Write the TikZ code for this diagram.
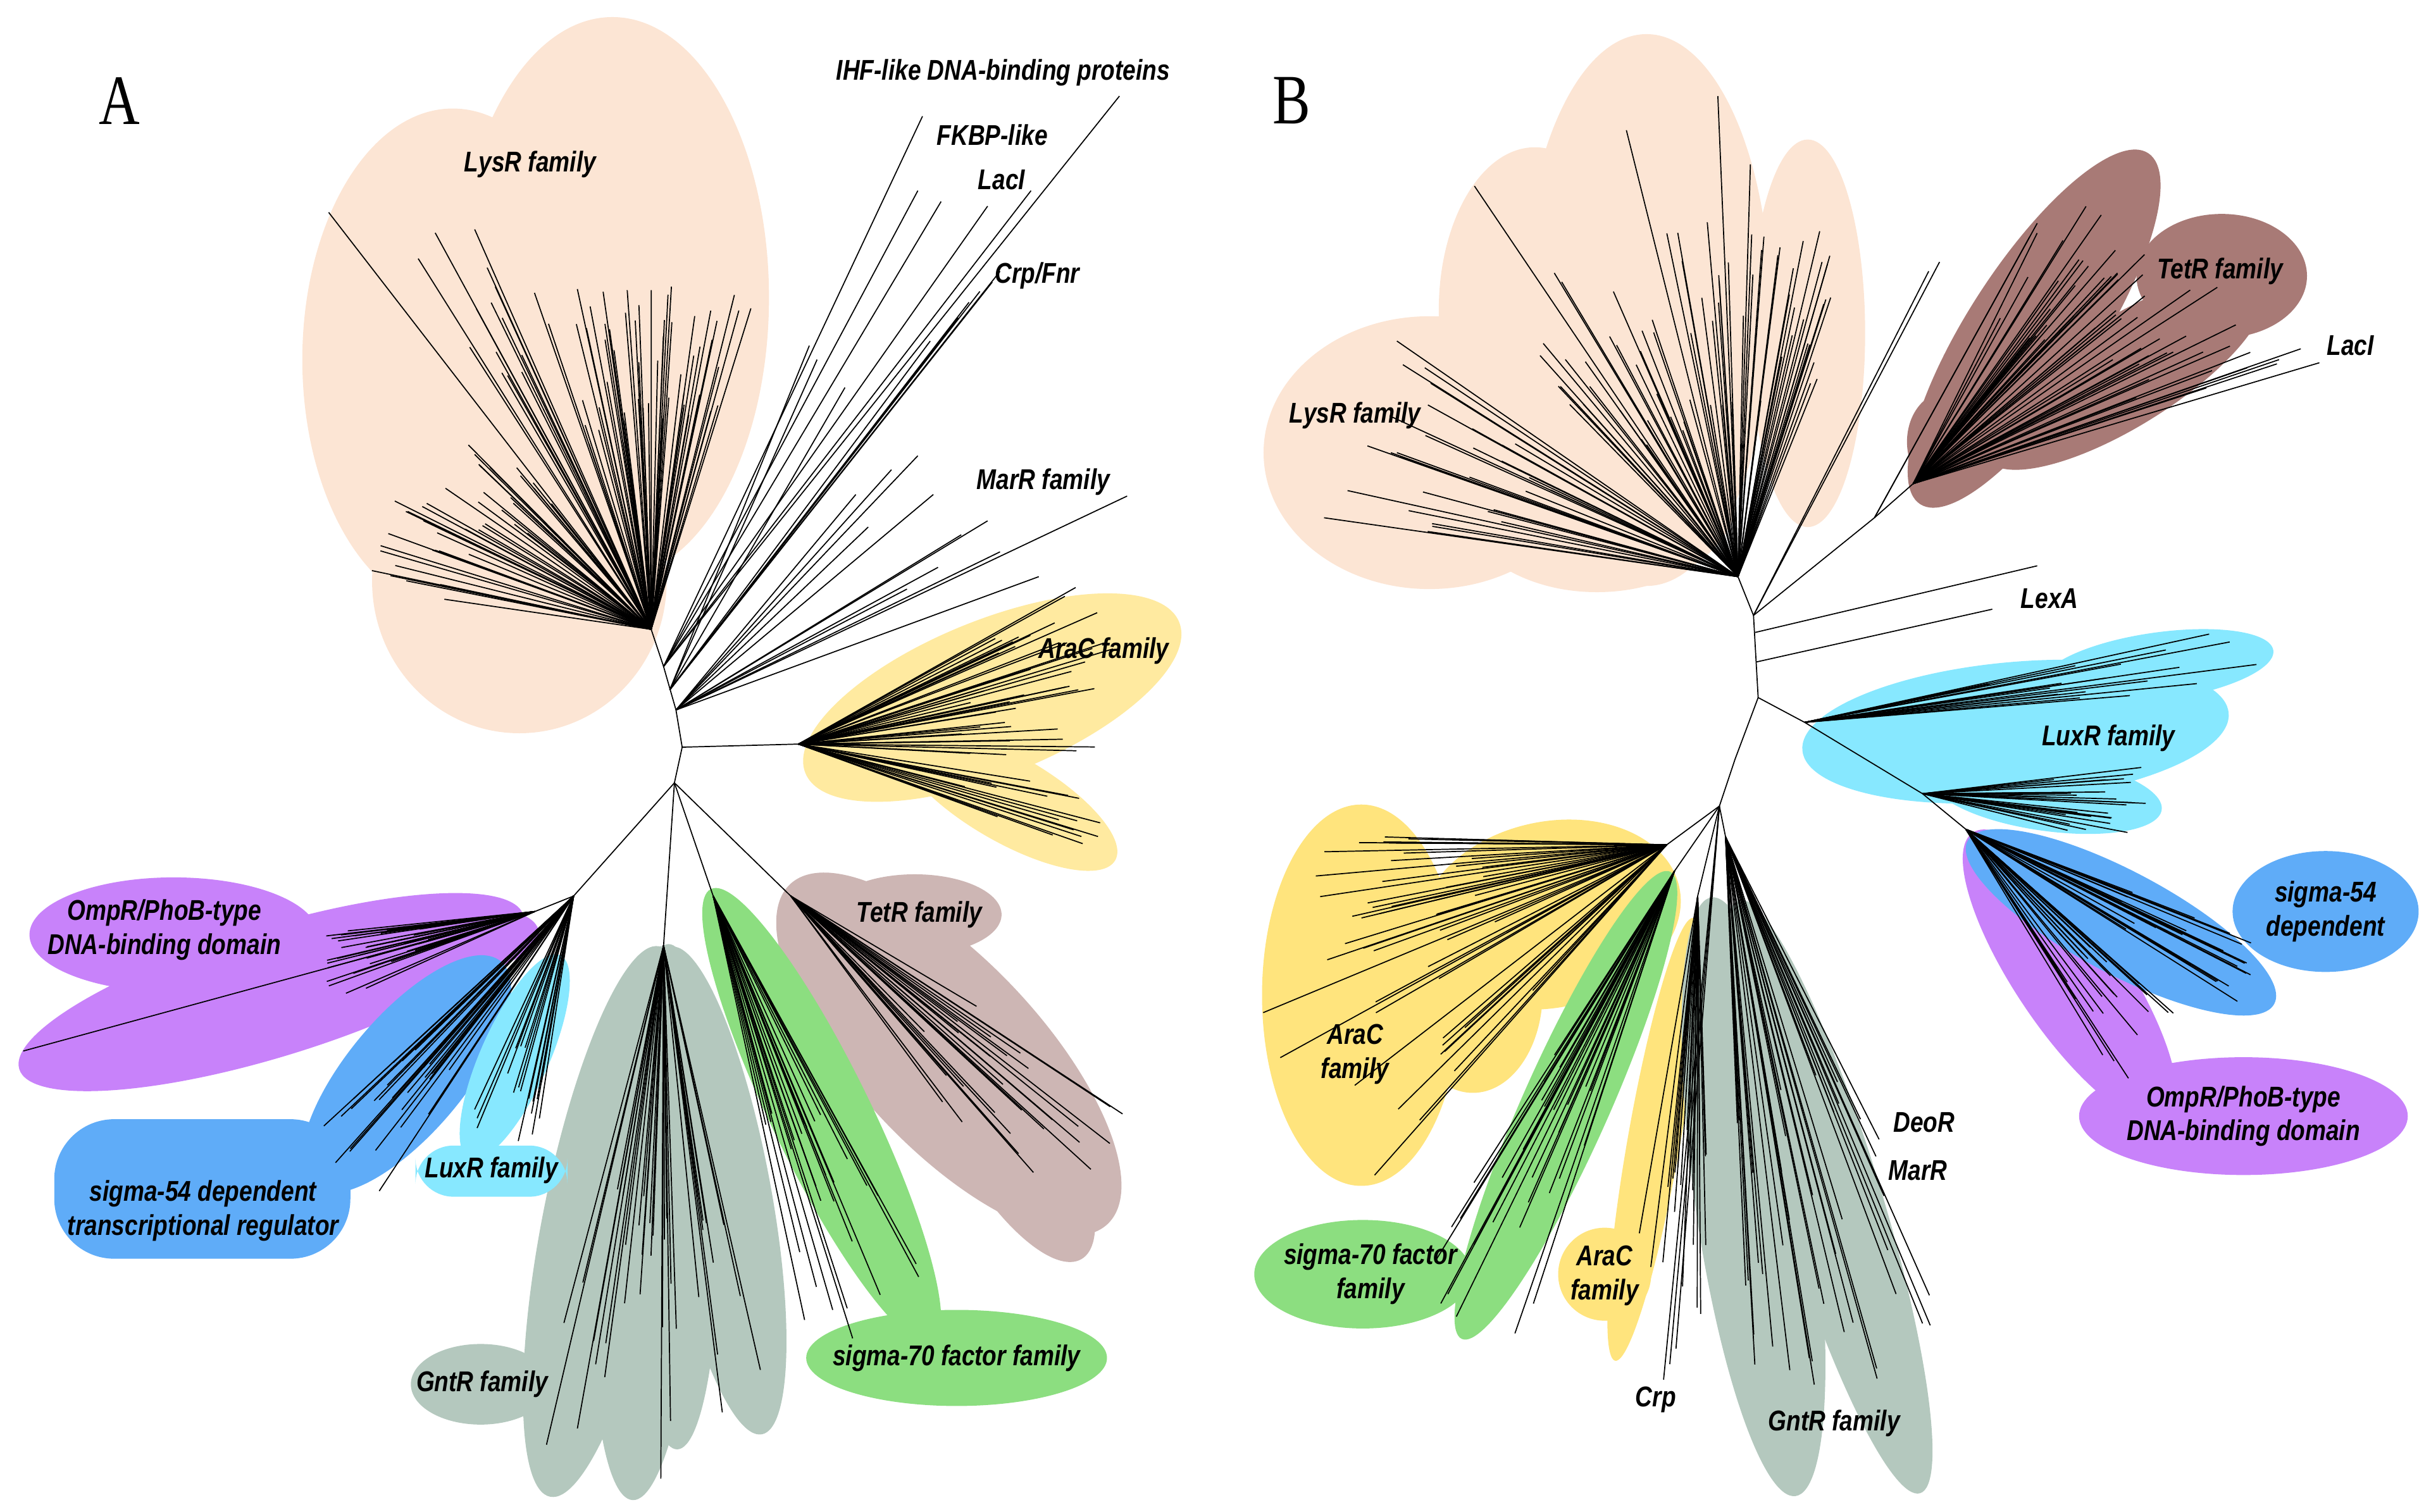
\documentclass[tikz,border=0pt]{standalone}
\usepackage{fontspec}
\newfontfamily\labfont[FakeStretch=0.82]{Liberation Sans}
\newfontfamily\panfont[FakeStretch=0.8]{Liberation Serif}
\definecolor{lysr}{RGB}{252,229,212}
\definecolor{arac}{RGB}{255,234,160}
\definecolor{aracb}{RGB}{255,228,125}
\definecolor{tetra}{RGB}{205,182,180}
\definecolor{tetrb}{RGB}{168,122,118}
\definecolor{ompr}{RGB}{200,130,250}
\definecolor{sigfs}{RGB}{95,172,248}
\definecolor{luxr}{RGB}{135,232,255}
\definecolor{gntr}{RGB}{180,200,190}
\definecolor{sigsv}{RGB}{140,222,128}
% random fan of leaves: hub, first angle, last angle, min length, max length, count
\newcommand\fan[6]{%
  \foreach \k in {1,...,#6} {
    \pgfmathsetmacro\fanang{#2+rnd*((#3)-(#2))}
    \pgfmathsetmacro\fanlen{#4+rnd*((#5)-(#4))}
    \draw[branch] (#1) -- ++(-\fanang:\fanlen);
  }}
\begin{document}
\begin{tikzpicture}[x=0.02cm, y=-0.02cm,
  branch/.style={line width=0.4pt},
  lab/.style={font=\labfont\bfseries\itshape\fontsize{10.5}{12.5}\selectfont, align=center, inner sep=0pt},
  panel/.style={font=\panfont\fontsize{26}{26}\selectfont, inner sep=0pt}]
\useasboundingbox (0,0) rectangle (1568,975);
\pgfmathsetseed{7}

% ---------------- panel A: clade shading ----------------
\fill[lysr] (395,192) ellipse (101 and 181);
\fill[lysr] (292,232) ellipse (97 and 162);
\fill[lysr] (335,375) ellipse (95 and 98);
\fill[arac, rotate around={22:(640,450)}] (640,450) ellipse (130 and 50);
\fill[arac, rotate around={-30:(650,515)}] (650,515) ellipse (80 and 28);
\fill[tetra] (590,590) ellipse (56 and 26);
\fill[tetra, rotate around={-47:(612,680)}] (612,680) ellipse (150 and 60);
\fill[tetra, rotate around={-60:(650,730)}] (650,730) ellipse (95 and 35);
\fill[sigsv, rotate around={-64:(530,720)}] (530,720) ellipse (163 and 32);
\fill[sigsv] (617,876) ellipse (97 and 31);
\fill[gntr] (310,893) ellipse (45 and 26);
\fill[gntr, rotate around={258.8:(390,788)}] (390,788) ellipse (181 and 40);
\fill[gntr, rotate around={266.8:(418,789)}] (418,789) ellipse (179 and 35);
\fill[gntr, rotate around={271:(434,772)}] (434,772) ellipse (163 and 30);
\fill[gntr, rotate around={280.6:(462,768)}] (462,768) ellipse (160 and 35);
\fill[ompr, rotate around={17:(175,640)}] (175,640) ellipse (170 and 42);
\fill[ompr] (112,603) ellipse (93 and 37);
\fill[ompr, rotate around={8:(280,610)}] (280,610) ellipse (68 and 24);
\fill[sigfs, rounded corners=22] (35,722) rectangle (226,812);
\fill[sigfs, rotate around={50:(262,693)}] (262,693) ellipse (95 and 38);
\fill[luxr, rotate around={66:(332,682)}] (332,682) ellipse (72 and 22);
\fill[luxr, rounded corners=14] (268,739) rectangle (366,772);

% ---------------- panel B: clade shading ----------------
\fill[lysr] (922,292) ellipse (107 and 88);
\fill[lysr] (990,200) ellipse (62 and 105);
\fill[lysr] (1062,200) ellipse (80 and 178);
\fill[lysr] (1030,320) ellipse (90 and 62);
\fill[lysr] (1166,215) ellipse (37 and 125);
\fill[tetrb, rotate around={57:(1312,212)}] (1312,212) ellipse (135 and 42);
\fill[tetrb] (1433,178) ellipse (55 and 40);
\fill[tetrb, rotate around={32:(1370,240)}] (1370,240) ellipse (105 and 35);
\fill[tetrb] (1255,285) ellipse (25 and 32);
\fill[luxr, rotate around={5:(1300,472)}] (1300,472) ellipse (138 and 45);
\fill[luxr, rotate around={8:(1392,430)}] (1392,430) ellipse (75 and 22);
\fill[luxr, rotate around={-8:(1320,512)}] (1320,512) ellipse (75 and 24);
\fill[ompr, rotate around={-56:(1335,630)}] (1335,630) ellipse (112 and 35);
\fill[ompr] (1447,720) ellipse (106 and 38);
\fill[sigfs, rotate around={-28:(1368,595)}] (1368,595) ellipse (112 and 33);
\fill[sigfs] (1500,588) ellipse (60 and 39);
\fill[aracb] (878,642) ellipse (64 and 123);
\fill[aracb, rotate around={12:(1000,590)}] (1000,590) ellipse (85 and 60);
\fill[aracb] (950,640) ellipse (45 and 65);
\fill[sigsv, rotate around={66:(1010,713)}] (1010,713) ellipse (165 and 28);
\fill[sigsv] (879,822) ellipse (70 and 35);
\fill[aracb, rotate around={80:(1067,735)}] (1067,735) ellipse (145 and 17);
\fill[aracb] (1035,822) ellipse (30 and 30);
\fill[gntr, rotate around={98:(1131,772)}] (1131,772) ellipse (195 and 38);
\fill[gntr, rotate around={107:(1180,772)}] (1180,772) ellipse (200 and 33);

% ---------------- panel A: tree ----------------
\coordinate (lysA) at (420,406);
\coordinate (a2) at (428,430);
\coordinate (a3) at (436,458);
\coordinate (araA0) at (440,482);
\coordinate (a5) at (435,505);
\coordinate (araA) at (515,480);
\coordinate (leftA) at (370,578);
\coordinate (ompA) at (345,588);
\coordinate (gntA) at (428,610);
\coordinate (sevA) at (460,578);
\coordinate (tetA) at (510,578);
\draw[branch] (lysA) -- (a2) -- (a3) -- (araA0) -- (a5);
\draw[branch] (araA0) -- (araA);
\draw[branch] (a5) -- (leftA) -- (ompA);
\foreach \c in {gntA, sevA, tetA} \draw[branch] (a5) -- (\c);
% LysR
\fan{lysA}{72}{95}{130}{225}{35}
\fan{lysA}{97}{112}{120}{230}{20}
\fan{lysA}{113}{124}{180}{295}{14}
\fan{lysA}{128}{150}{100}{170}{20}
\fan{lysA}{150}{172}{120}{185}{22}
\draw[branch] (lysA) -- (212,137);
% unlabelled branches up to the right
\foreach \t in {(722,62),(595,75),(592,123),(607,130),(637,133),(665,123)} \draw[branch] (a2) -- \t;
\foreach \t in {(645,175),(640,182),(632,188),(625,195),(618,205),(600,220),(522,223),(527,232),(545,250)} \draw[branch] (432,445) -- \t;
\foreach \t in {(592,294),(727,320),(637,336),(602,319),(645,356),(670,372),(552,319),(575,303),(605,366),(620,345),(560,340),(585,380)} \draw[branch] (a3) -- \t;
% AraC
\fan{araA}{14}{30}{120}{215}{22}
\fan{araA}{-4}{14}{100}{200}{22}
\fan{araA}{-22}{-8}{110}{205}{16}
% OmpR, sigma-54, LuxR
\fan{ompA}{185}{205}{70}{145}{34}
\draw[branch] (ompA) -- (15,678);
\fan{leftA}{221}{238}{130}{232}{28}
\fan{leftA}{245}{262}{100}{172}{18}
% GntR, sigma-70, TetR
\fan{gntA}{255}{284}{150}{355}{38}
\fan{sevA}{282}{299}{140}{300}{28}
\fan{tetA}{305}{331}{120}{262}{28}

% ---------------- panel B: tree ----------------
\coordinate (lysB) at (1121,372);
\coordinate (b2) at (1131,397);
\coordinate (lexa1) at (1132,408);
\coordinate (lexa2) at (1133,427);
\coordinate (b3) at (1134,450);
\coordinate (b35) at (1119,490);
\coordinate (b4) at (1109,520);
\coordinate (b21) at (1209,334);
\coordinate (tetB) at (1234,312);
\coordinate (luxB) at (1164,466);
\coordinate (luxB2) at (1240,512);
\coordinate (compB) at (1268,535);
\coordinate (araB) at (1075,545);
\coordinate (sevB) at (1080,562);
\coordinate (ara2B) at (1095,578);
\coordinate (gntB) at (1113,540);
\draw[branch] (lysB) -- (b2) -- (b3) -- (b35) -- (b4);
\draw[branch] (b2) -- (b21) -- (tetB);
\draw[branch] (b3) -- (luxB) -- (luxB2) -- (compB);
\foreach \c in {araB, sevB, ara2B, gntB} \draw[branch] (b4) -- (\c);
% LysR
\fan{lysB}{68}{100}{110}{230}{40}
\fan{lysB}{100}{135}{100}{230}{32}
\fan{lysB}{145}{172}{120}{265}{28}
\foreach \t in {(1108,62),(1049,84),(951,120),(1129,106),(901,220),(901,292),(854,334)} \draw[branch] (lysB) -- \t;
% unlabelled branches, TetR and LacI
\draw[branch] (b2) -- (1251,169);
\draw[branch] (b2) -- (1244,175);
\draw[branch] (b21) -- (1314,144);
\draw[branch] (b21) -- (1309,153);
\fan{tetB}{35}{64}{120}{220}{35}
\fan{tetB}{18}{35}{140}{250}{20}
\foreach \t in {(1484,225),(1496,234),(1470,232)} \draw[branch] (tetB) -- \t;
% LexA
\draw[branch] (lexa1) -- (1314,365);
\draw[branch] (lexa2) -- (1285,393);
% LuxR, sigma-54, OmpR
\fan{luxB}{3}{13}{120}{295}{18}
\fan{luxB2}{-16}{7}{80}{145}{26}
\fan{compB}{-33}{-19}{100}{215}{24}
\fan{compB}{-60}{-40}{100}{195}{24}
% AraC, sigma-70, Crp, GntR
\fan{araB}{178}{202}{110}{235}{32}
\fan{araB}{202}{230}{100}{285}{20}
\fan{sevB}{236}{252}{140}{320}{30}
\fan{ara2B}{259}{272}{140}{275}{20}
\foreach \t in {(1073,890),(1077,880),(1081,870)} \draw[branch] (b4) -- \t;
\fan{gntB}{272}{296}{150}{365}{38}
\foreach \t in {(1212,735),(1210,746),(1200,722),(1245,855)} \draw[branch] (gntB) -- \t;

% ---------------- labels ----------------
\node[panel] (pA) at (77,65) {A};
\node[panel] (pB) at (833,65) {B};
\node[lab] (lysAlab) at (342,106) {LysR family};
\node[lab] (ihfAlab) at (647,47) {IHF-like DNA-binding proteins};
\node[lab] (fkbAlab) at (640,87) {FKBP-like};
\node[lab] (lacAlab) at (646,116) {LacI};
\node[lab] (crpAlab) at (669,178) {Crp/Fnr};
\node[lab] (marAlab) at (673,311) {MarR family};
\node[lab] (araAlab) at (712,420) {AraC family};
\node[lab] (tetAlab) at (593,590) {TetR family};
\node[lab] (ompAlab) at (106,600) {OmpR/PhoB-type\\DNA-binding domain};
\node[lab] (sigAlab) at (131,781) {sigma-54 dependent\\transcriptional regulator};
\node[lab] (luxAlab) at (317,755) {LuxR family};
\node[lab] (gntAlab) at (311,893) {GntR family};
\node[lab] (sevAlab) at (617,876) {sigma-70 factor family};
\node[lab] (lysBlab) at (874,268) {LysR family};
\node[lab] (tetBlab) at (1432,175) {TetR family};
\node[lab] (lacBlab) at (1516,223) {LacI};
\node[lab] (lexBlab) at (1322,386) {LexA};
\node[lab] (luxBlab) at (1360,476) {LuxR family};
\node[lab] (sigBlab) at (1500,588) {sigma-54\\dependent};
\node[lab] (ompBlab) at (1447,720) {OmpR/PhoB-type\\DNA-binding domain};
\node[lab] (araBlab) at (874,680) {AraC\\family};
\node[lab] (sevBlab) at (884,822) {sigma-70 factor\\family};
\node[lab] (ara2Blab) at (1035,823) {AraC\\family};
\node[lab] (crpBlab) at (1068,903) {Crp};
\node[lab] (gntBlab) at (1183,918) {GntR family};
\node[lab] (deoBlab) at (1241,724) {DeoR};
\node[lab] (marBlab) at (1237,755) {MarR};
\end{tikzpicture}
\end{document}
